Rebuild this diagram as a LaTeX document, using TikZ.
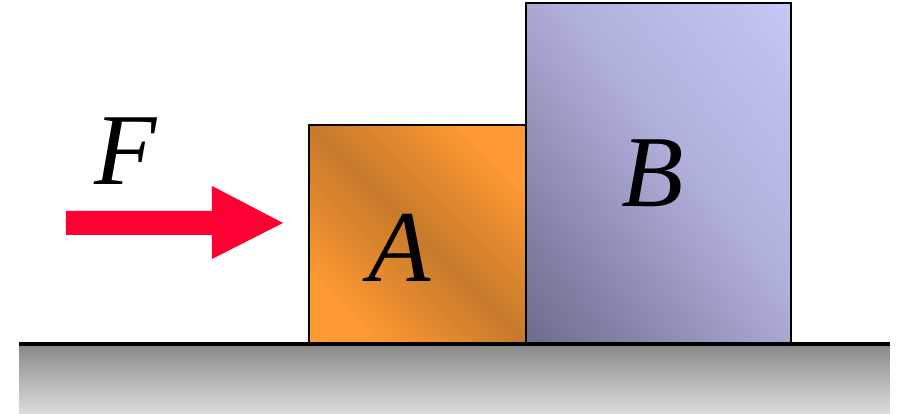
\documentclass[tikz,border=0pt]{standalone}
\usepackage{fontspec}
\setmainfont{Liberation Serif}
\usepackage{tikz}
\usetikzlibrary{positioning}

\definecolor{forcered}{HTML}{FF0033}
\definecolor{orangeA}{HTML}{FF9933}
\definecolor{orangeB}{HTML}{C67A2A}
\definecolor{lavA}{HTML}{CCCCFF}
\definecolor{lavB}{HTML}{B0B0DC}
\definecolor{lavC}{HTML}{5E5E7E}

\pgfdeclareverticalshading{blockAshade}{100bp}{color(0bp)=(orangeA); color(25bp)=(orangeA); color(50bp)=(orangeB); color(75bp)=(orangeA); color(100bp)=(orangeA)}
\pgfdeclareverticalshading{blockBshade}{100bp}{color(0bp)=(lavC); color(7bp)=(lavC); color(55bp)=(lavB); color(93bp)=(lavA); color(100bp)=(lavA)}

\begin{document}
\begin{tikzpicture}[
    block/.style={draw=black, line width=0.6pt, inner sep=0pt, anchor=south west},
    lbl/.style={font=\fontsize{29}{32}\selectfont\itshape, inner sep=0pt}
  ]
  \useasboundingbox (0,0) rectangle (9.02,4.14);

  % ground
  \shade[top color=black!47, bottom color=black!13] (0.19,0) rectangle (8.90,0.70);
  \draw[line width=0.9pt] (0.19,0.70) -- (8.90,0.70);

  % blocks
  \node[block, shading=blockAshade, shading angle=-45,
        minimum width=2.18cm, minimum height=2.18cm] (A) at (3.08,0.70) {};
  \node[block, shading=blockBshade, shading angle=-52,
        minimum width=2.65cm, minimum height=3.40cm] (B) at (5.25,0.70) {};
  \node[lbl] (labA) at (4.00,1.66) {A};
  \node[lbl] (labB) at ([xshift=-0.06cm]B.center) {B};

  % force
  \coordinate (Ftail) at (0.66,1.91);
  \coordinate (Ftip) at (2.83,1.91);
  \fill[forcered] (Ftail) ++(0,-0.12) -- ++(1.46,0) -- ++(0,-0.24) -- (Ftip)
    -- ++(-0.71,0.37) -- ++(0,-0.25) -- ++(-1.46,0) -- cycle;
  \node[lbl] (labF) at (1.255,2.625) {F};
\end{tikzpicture}
\end{document}
